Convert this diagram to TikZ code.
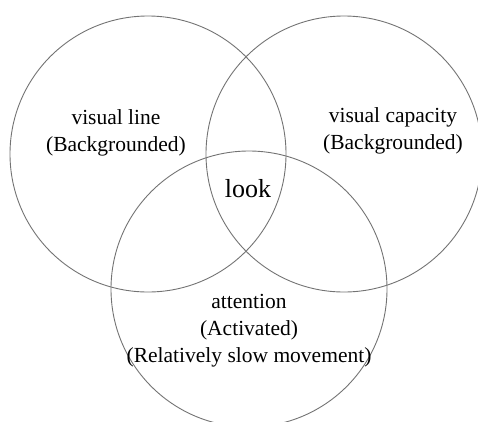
\documentclass[tikz,border=0pt]{standalone}
\usepackage{fontspec}
\newfontfamily\vennfont{Liberation Serif}
\usepackage{tikz}
\usetikzlibrary{positioning}

\begin{document}
\begin{tikzpicture}[
        x=1pt, y=-1pt,
        ring/.style={circle, draw=black!55, line width=0.9pt, minimum size=276pt, inner sep=0pt, outer sep=0pt},
        label/.style={align=center, inner sep=0pt, font=\vennfont\fontsize{21.5}{27}\selectfont},
        core/.style={inner sep=0pt, font=\vennfont\fontsize{26}{30}\selectfont}
    ]
        \useasboundingbox (0,0) rectangle (478,421);
        \clip (0,0) rectangle (478,421);

        \node[ring] (visline) at (148,154) {};
        \node[ring] (viscap) at (344,154) {};
        \node[ring] (attn) at (249,289) {};

        \node[label] (vislinetext) at (116,133) {visual line\\(Backgrounded)};
        \node[label] (viscaptext) at (393,131) {visual capacity\\(Backgrounded)};
        \node[core] (look) at (248,189) {look};
        \node[label] (attntext) at (249,331) {attention\\(Activated)\\(Relatively slow movement)};
    \end{tikzpicture}
\end{document}
